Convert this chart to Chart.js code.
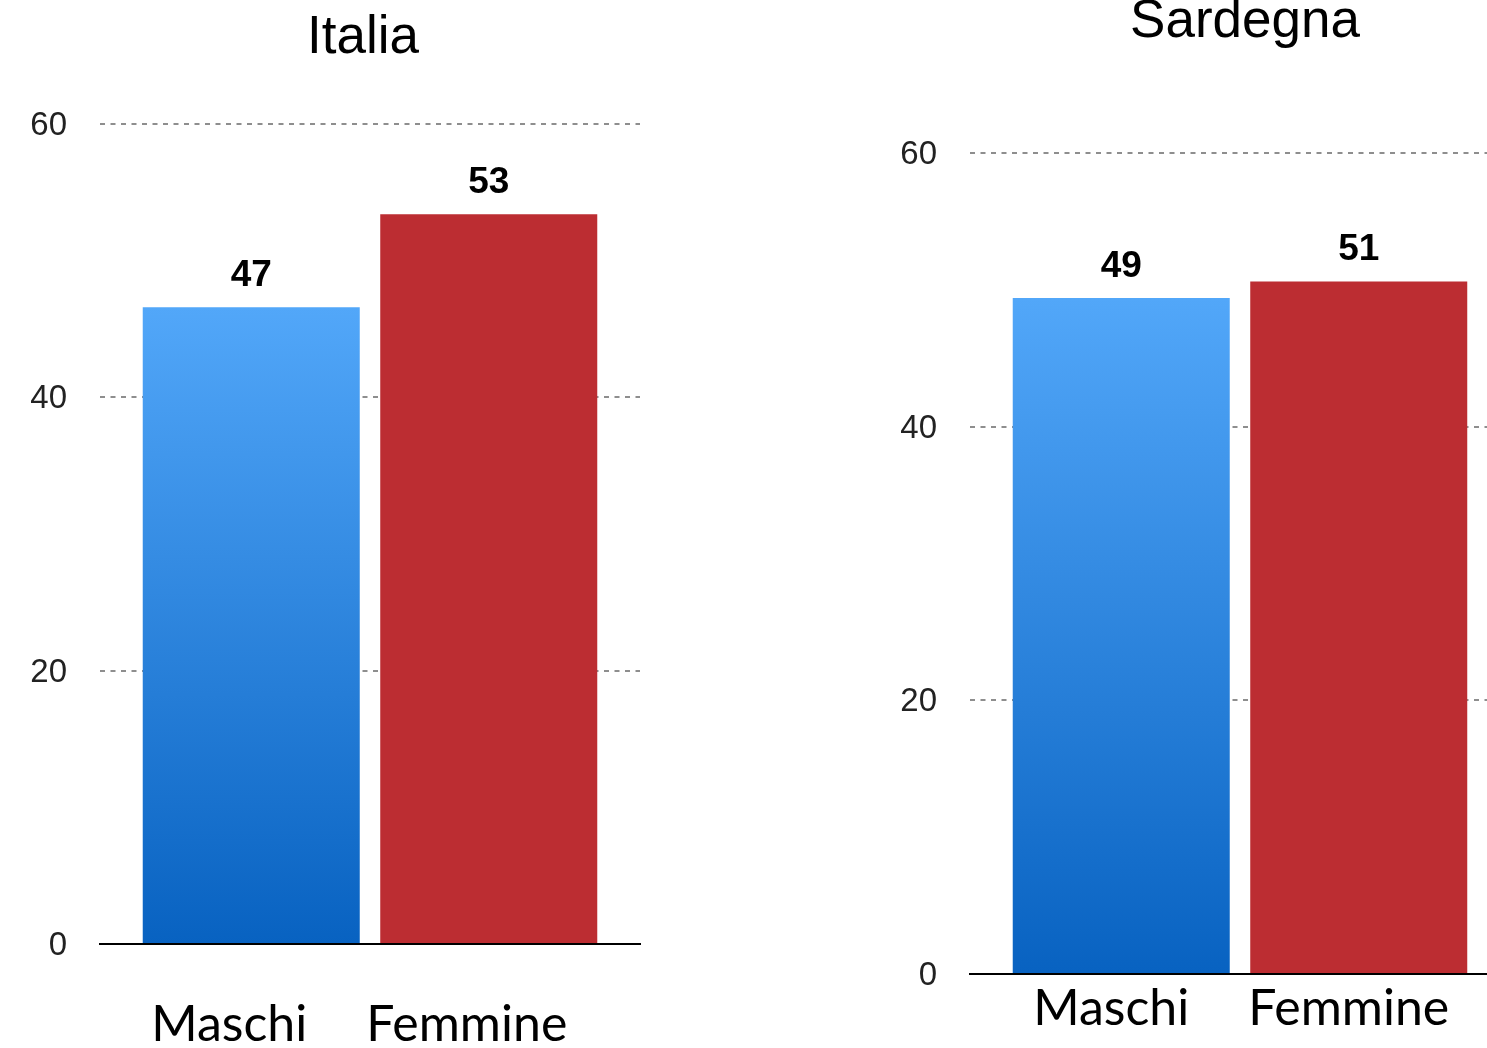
<!DOCTYPE html>
<html>
<head>
<meta charset="utf-8">
<script src="https://cdn.jsdelivr.net/npm/chart.js@4.4.1/dist/chart.umd.min.js"></script>
<style>
  html, body { margin: 0; padding: 0; background: #fff; overflow: hidden; width: 1487px; height: 1048px; }
  #italia { position: absolute; left: 0; top: 0; }
  #sardegna { position: absolute; left: 870px; top: -17px; }
</style>
</head>
<body>
<canvas id="italia" width="726" height="1048"></canvas>
<canvas id="sardegna" width="750" height="1065"></canvas>
<script>
const categories = ['Maschi', 'Femmine'];
const italiaValues = [46.6, 53.4];
const sardegnaValues = [49.4, 50.6];
const valueLabels = { italia: ['47', '53'], sardegna: ['49', '51'] };
const yTicks = [0, 20, 40, 60];

const blueTop = '#52a7f9';
const blueBottom = '#0862c1';
const red = '#bc2d32';

// value above each bar, placed from the bar element itself
const valueLabelPlugin = {
    id: 'valueLabels',
    afterDatasetsDraw(chart, args, opts) {
        let ctx = chart.ctx;
        let meta = chart.getDatasetMeta(0);
        ctx.save();
        ctx.font = 'bold 37px "Liberation Sans", Arial, sans-serif';
        ctx.fillStyle = '#000';
        ctx.textAlign = 'center';
        ctx.textBaseline = 'bottom';
        meta.data.forEach((bar, i) => {
            ctx.fillText(opts.labels[i], bar.x, bar.y - 13);
        });
        ctx.restore();
    }
};

function barColour(c) {
    if (c.type !== 'data') return red;
    if (c.dataIndex === 1) return red;
    let chart = c.chart;
    let y = chart.scales.y;
    if (!chart.chartArea) return blueTop;
    let top = y.getPixelForValue(c.raw.y);
    let bottom = y.getPixelForValue(0);
    let g = chart.ctx.createLinearGradient(0, top, 0, bottom);
    g.addColorStop(0, blueTop);
    g.addColorStop(1, blueBottom);
    return g;
}

function makeChart(id, title, values, labels, s) {
    let ctx = document.getElementById(id).getContext('2d');
    return new Chart(ctx, {
        type: 'bar',
        data: {
            datasets: [{
                data: values.map((v, i) => ({ x: i + 1, y: v })),
                backgroundColor: barColour,
                borderWidth: 0,
                categoryPercentage: 1,
                barPercentage: 0.9137
            }]
        },
        options: {
            responsive: false,
            animation: false,
            devicePixelRatio: 1,
            layout: { padding: 0 },
            scales: {
                x: {
                    type: 'linear',
                    offset: false,
                    min: 0.3632,
                    max: s.xMax,
                    afterBuildTicks: (axis) => {
                        axis.ticks = categories.map((c, i) => ({ value: i + 1 }));
                    },
                    afterFit: (axis) => { axis.height = s.xHeight; },
                    grid: { display: false, drawTicks: false },
                    border: { display: true, color: '#000', width: 2, z: 1 },
                    ticks: {
                        callback: (v) => categories[v - 1],
                        color: '#000',
                        padding: s.tickPad,
                        labelOffset: s.labelOffset,
                        maxRotation: 0,
                        autoSkip: false,
                        font: { family: 'Lato', size: 50, lineHeight: 1 }
                    }
                },
                y: {
                    min: 0,
                    max: 60,
                    afterBuildTicks: (axis) => {
                        axis.ticks = yTicks.map(v => ({ value: v }));
                    },
                    afterFit: (axis) => { axis.width = 100; },
                    grid: {
                        drawTicks: false,
                        lineWidth: 2,
                        color: (c) => c.tick && c.tick.value === 0 ? 'rgba(0,0,0,0)' : '#8e8e8e'
                    },
                    border: { display: false, dash: [5, 5.5] },
                    ticks: {
                        color: '#222',
                        padding: 33,
                        labelOffset: 2,
                        font: { family: '"Liberation Sans", Arial, sans-serif', size: 33 }
                    }
                },
                // empty right-hand axis, only keeps space so the title sits over the bars
                yRight: {
                    position: 'right',
                    display: s.rightSpace > 0,
                    afterFit: (axis) => { axis.width = s.rightSpace; },
                    grid: { display: false, drawTicks: false },
                    border: { display: false },
                    ticks: { display: false }
                }
            },
            plugins: {
                legend: false,
                tooltip: { enabled: false },
                title: {
                    display: true,
                    text: title,
                    color: '#000',
                    font: { family: '"Liberation Sans", Arial, sans-serif', size: 53, weight: 'normal', lineHeight: 1.2 },
                    padding: { top: s.titleTop, bottom: s.titleBottom }
                },
                valueLabels: { labels: labels }
            }
        },
        plugins: [valueLabelPlugin]
    });
}

makeChart('italia', 'Italia', italiaValues, valueLabels.italia,
    { rightSpace: 86, xMax: 2.6368, titleTop: 7, titleBottom: 53.4,
      xHeight: 104, tickPad: 56, labelOffset: -22 });
makeChart('sardegna', 'Sardegna', sardegnaValues, valueLabels.sardegna,
    { rightSpace: 0, xMax: 3.1, titleTop: 8, titleBottom: 98.4,
      xHeight: 74, tickPad: 10, labelOffset: -10 });
</script>
</body>
</html>
